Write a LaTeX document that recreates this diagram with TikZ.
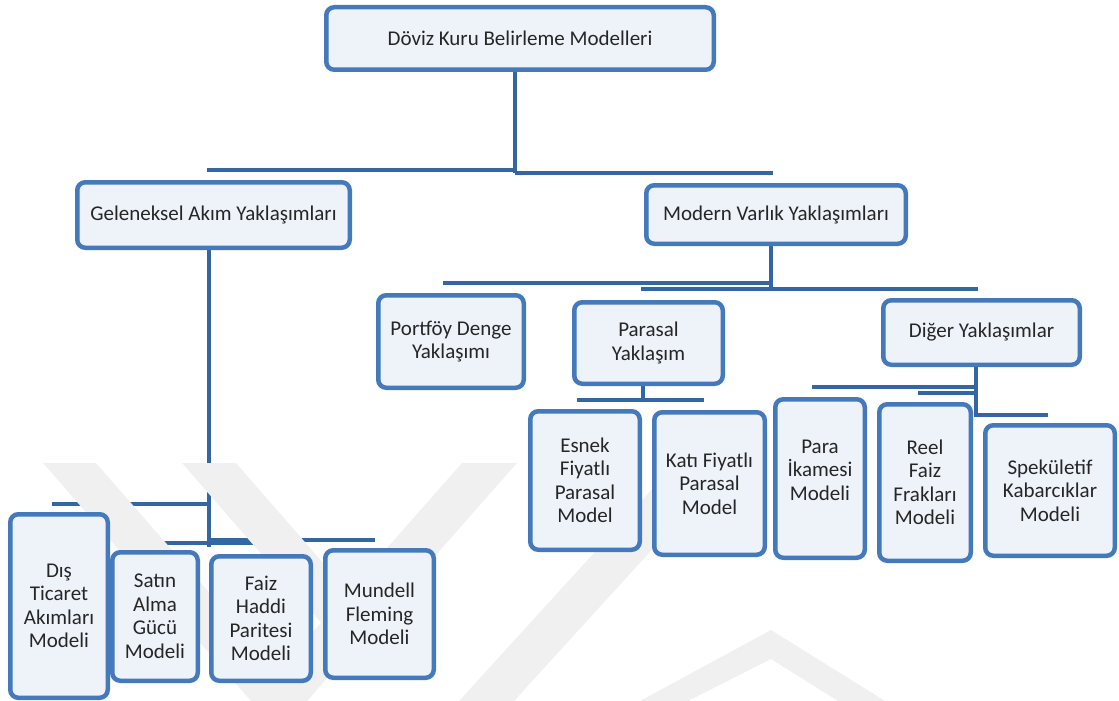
\documentclass[tikz,border=0pt]{standalone}
\usepackage{fontspec}
\setmainfont{Carlito}
\definecolor{bord}{HTML}{4479BC}
\definecolor{conncol}{HTML}{3367A3}
\definecolor{boxfill}{HTML}{EEF3F9}
\definecolor{txtcol}{HTML}{262626}
\definecolor{wmark}{HTML}{F0F0F0}
\pgfdeclarelayer{bg}
\pgfsetlayers{bg,main}
\tikzset{
  box/.style={draw=bord, line width=4.5pt, fill=boxfill, rounded corners=8pt,
    text=txtcol, align=center, inner sep=0pt,
    font=\fontsize{21}{23.5}\selectfont},
  txt/.style={text=txtcol, align=center, inner sep=0pt,
    font=\fontsize{21}{23.5}\selectfont},
  conn/.style={draw=conncol, line width=4.5pt},
  wm/.style={fill=wmark, draw=none}
}
\begin{document}
\begin{tikzpicture}[x=1pt,y=-1pt]
\useasboundingbox (0,0) rectangle (1119,701);
% watermark
\fill[wm] (43,463) -- (96,463) -- (304,701) -- (251,701) -- cycle;
\fill[wm] (182,463) -- (236,463) -- (378,626) -- (324,626) -- cycle;
\fill[wm] (462,463) -- (517,463) -- (307,701) -- (252,701) -- cycle;
\fill[wm] (676,463) -- (731,463) -- (514,701) -- (459,701) -- cycle;
\fill[wm] (771,630) -- (885,701) -- (838,701) -- (771,659) -- (688,701) -- (640,701) -- cycle;

% boxes
\node[box, minimum width=387.5pt, minimum height=62.5pt] (root) at (520,38.5) {Döviz Kuru Belirleme Modelleri};
\node[box, minimum width=272.5pt, minimum height=65.5pt] (gel) at (213.5,215) {Geleneksel Akım Yaklaşımları};
\node[box, minimum width=259.5pt, minimum height=58.5pt] (mod) at (776,214.5) {Modern Varlık Yaklaşımları};
\node[box, minimum width=145.5pt, minimum height=92.5pt] (port) at (451,341.5) {Portföy Denge\\Yaklaşımı};
\node[box, minimum width=148.5pt, minimum height=81.5pt] (paras) at (648.5,343) {Parasal\\Yaklaşım};
\node[box, minimum width=196.5pt, minimum height=64.5pt] (diger) at (981.5,332.5) {Diğer Yaklaşımlar};
\node[box, minimum width=109.5pt, minimum height=138.5pt] (esnek) at (585,480.5) {Esnek\\Fiyatlı\\Parasal\\Model};
\node[box, minimum width=110.5pt, minimum height=142.5pt] (kati) at (709.5,483.5) {Katı Fiyatlı\\Parasal\\Model};
\node[box, minimum width=89.5pt, minimum height=158.5pt] (para) at (820,478.5) {};
\node[txt] (paratxt) at ([yshift=8.5pt]para.center) {Para\\İkamesi\\Modeli};
\node[box, minimum width=91.5pt, minimum height=156.5pt] (reel) at (925,482.5) {Reel\\Faiz\\Frakları\\Modeli};
\node[box, minimum width=129.5pt, minimum height=130.5pt] (spek) at (1050,490.5) {Spekületif\\Kabarcıklar\\Modeli};
\node[box, minimum width=97.5pt, minimum height=183.5pt] (dis) at (59,606) {Dış\\Ticaret\\Akımları\\Modeli};
\node[box, minimum width=85.5pt, minimum height=128.5pt] (satin) at (155,616.5) {Satın\\Alma\\Gücü\\Modeli};
\node[box, minimum width=99.5pt, minimum height=124.5pt] (faiz) at (261,618.5) {Faiz\\Haddi\\Paritesi\\Modeli};
\node[box, minimum width=108.5pt, minimum height=127.5pt] (mund) at (379.5,614) {Mundell\\Fleming\\Modeli};

% connector end points
\coordinate (a0) at (515,172.5);
\coordinate (a1l) at (207,170); \coordinate (a1r) at (515,170);
\coordinate (a2l) at (515,173); \coordinate (a2r) at (773,173);
\coordinate (g0) at (209,547);
\coordinate (g1l) at (52,504); \coordinate (g1r) at (209,504);
\coordinate (g2l) at (147,543); \coordinate (g2r) at (258,543);
\coordinate (g3l) at (209,540); \coordinate (g3r) at (375,540);
\coordinate (m0) at (771,290);
\coordinate (m1l) at (443,283); \coordinate (m1r) at (771,283);
\coordinate (m2l) at (641,289); \coordinate (m2r) at (978,289);
\coordinate (p0) at (643,401);
\coordinate (p1l) at (577,400); \coordinate (p1r) at (704,400);
\coordinate (d0) at (976,417);
\coordinate (d1l) at (812,387); \coordinate (d1r) at (976,387);
\coordinate (d2l) at (918,393); \coordinate (d2r) at (976,393);
\coordinate (d3l) at (976,415); \coordinate (d3r) at (1048,415);

\begin{pgfonlayer}{bg}
\draw[conn] (root.south -| a0) -- (a0);
\draw[conn] (a1l) -- (a1r);
\draw[conn] (a2l) -- (a2r);
\draw[conn] (gel.south -| g0) -- (g0);
\draw[conn] (g1l) -- (g1r);
\draw[conn] (g2l) -- (g2r);
\draw[conn] (g3l) -- (g3r);
\draw[conn] (mod.south -| m0) -- (m0);
\draw[conn] (m1l) -- (m1r);
\draw[conn] (m2l) -- (m2r);
\draw[conn] (paras.south -| p0) -- (p0);
\draw[conn] (p1l) -- (p1r);
\draw[conn] (diger.south -| d0) -- (d0);
\draw[conn] (d1l) -- (d1r);
\draw[conn] (d2l) -- (d2r);
\draw[conn] (d3l) -- (d3r);
\end{pgfonlayer}
\end{tikzpicture}
\end{document}
